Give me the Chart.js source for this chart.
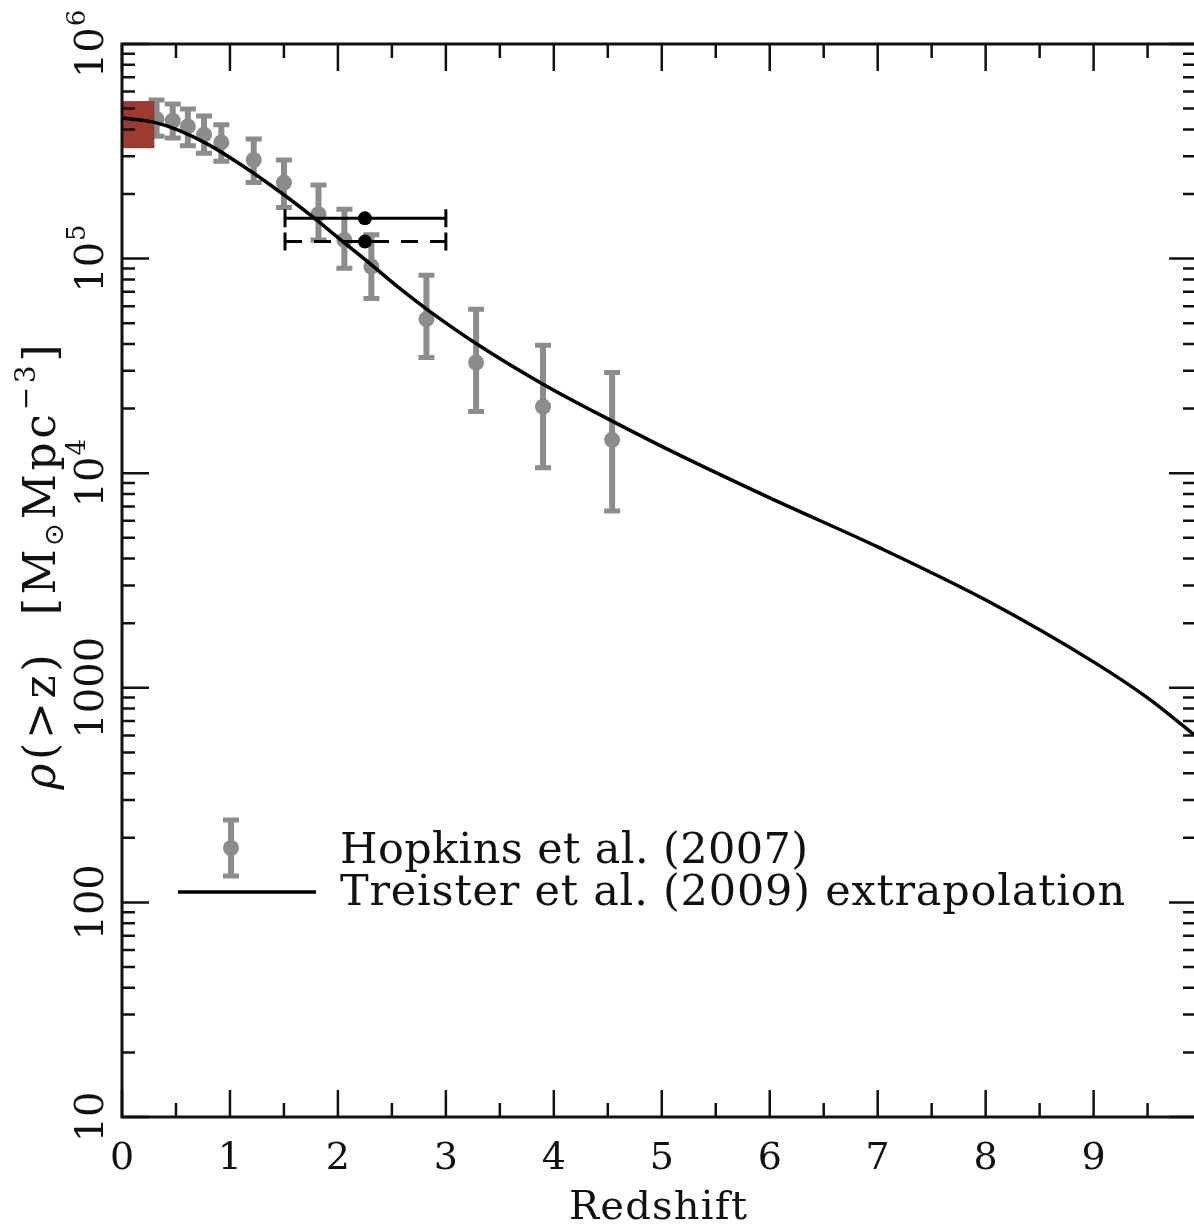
<!DOCTYPE html>
<html><head><meta charset="utf-8">
<script src="https://cdn.jsdelivr.net/npm/chart.js@4/dist/chart.umd.min.js"></script>
<style>html,body{margin:0;padding:0;background:#fff;overflow:hidden}#wrap{position:relative;width:1194px;height:1225px}</style>
</head><body><div id="wrap"><canvas id="c" width="1194" height="1225"></canvas></div>
<script>
// ---- data ----
const hopkinsZ   = [0.32, 0.47, 0.61, 0.76, 0.92, 1.22, 1.50, 1.82, 2.06, 2.31, 2.82, 3.28, 3.90, 4.54];
const hopkinsRho = [4.47e5, 4.39e5, 4.13e5, 3.78e5, 3.48e5, 2.88e5, 2.26e5, 1.61e5, 1.22e5, 9.19e4, 5.22e4, 3.28e4, 2.04e4, 1.43e4];
const hopkinsHi  = [5.48e5, 5.25e5, 4.98e5, 4.62e5, 4.20e5, 3.61e5, 2.88e5, 2.20e5, 1.70e5, 1.29e5, 8.37e4, 5.81e4, 3.95e4, 2.95e4];
const hopkinsLo  = [3.72e5, 3.65e5, 3.36e5, 3.10e5, 2.84e5, 2.26e5, 1.73e5, 1.22e5, 9.02e4, 6.51e4, 3.46e4, 1.94e4, 1.06e4, 6.66e3];

const treisterZ   = [0, 0.31, 0.51, 0.81, 1.12, 1.49, 1.77, 2.02, 2.27, 2.57, 2.85, 3.29, 3.9, 4.55, 5.17, 6.01, 7.01, 8.01, 9.01, 9.51, 9.93];
const treisterRho = [4.52e5, 4.30e5, 3.99e5, 3.38e5, 2.70e5, 2.00e5, 1.56e5, 1.23e5, 9.73e4, 7.28e4, 5.68e4, 3.99e4, 2.60e4, 1.74e4, 1.21e4, 7.63e3, 4.51e3, 2.55e3, 1.31e3, 890, 605];

const xrayZ    = [2.25, 2.25];
const xrayRho  = [1.54e5, 1.20e5];
const xrayZLo  = [1.51, 1.51];
const xrayZHi  = [3.0, 3.0];
const xrayDash = [false, true];

const localZ   = [0, 0.3];
const localRho = [3.27e5, 5.42e5];

const xMajorTicks = [0,1,2,3,4,5,6,7,8,9];
const xMinorTicks = [0.5,1.5,2.5,3.5,4.5,5.5,6.5,7.5,8.5,9.5];
const xTickLabels = ['0','1','2','3','4','5','6','7','8','9'];
const yMajorTicks = [10, 100, 1000, 1e4, 1e5, 1e6];
const yTickLabels = ['10', '100', '1000', '10^4', '10^5', '10^6'];
const legendLabels = ['Hopkins et al. (2007)', 'Treister et al. (2009) extrapolation'];
const xTitle = 'Redshift';

const GRAY = '#8c8c8c';
const RED = '#9e3b30';
const FONT = '"DejaVu Serif", "Liberation Serif", serif';

function drawErrV(ctx, px, pyHi, pyLo, cap, lw, capLw, color){
  ctx.save(); ctx.strokeStyle=color; ctx.lineWidth=lw; ctx.lineCap='butt';
  ctx.beginPath(); ctx.moveTo(px,pyHi); ctx.lineTo(px,pyLo); ctx.stroke();
  ctx.lineWidth=capLw;
  ctx.beginPath(); ctx.moveTo(px-cap,pyHi); ctx.lineTo(px+cap,pyHi); ctx.moveTo(px-cap,pyLo); ctx.lineTo(px+cap,pyLo); ctx.stroke();
  ctx.restore();
}

const plot = {
  id:'plot',
  beforeDatasetDraw(chart, args){
    const {ctx, scales:{x,y}} = chart;
    if(args.index===0){
      for(let i=0;i<hopkinsZ.length;i++){
        drawErrV(ctx, x.getPixelForValue(hopkinsZ[i]), y.getPixelForValue(hopkinsHi[i]), y.getPixelForValue(hopkinsLo[i]), 8, 6, 5, GRAY);
      }
    }
    if(args.index===2){
      for(let i=0;i<xrayZ.length;i++){
        const py=y.getPixelForValue(xrayRho[i]);
        const x0=x.getPixelForValue(xrayZLo[i]), x1=x.getPixelForValue(xrayZHi[i]);
        ctx.save(); ctx.strokeStyle='#000'; ctx.lineWidth=3;
        if(xrayDash[i]) ctx.setLineDash([17,12]);
        ctx.beginPath(); ctx.moveTo(x0,py); ctx.lineTo(x1,py); ctx.stroke();
        ctx.setLineDash([]);
        ctx.beginPath(); ctx.moveTo(x0,py-9); ctx.lineTo(x0,py+9); ctx.moveTo(x1,py-9); ctx.lineTo(x1,py+9); ctx.stroke();
        ctx.restore();
      }
    }
  },
  afterDatasetDraw(chart, args){
    const {ctx, scales:{x,y}} = chart;
    if(args.index===0){
      const x0=x.getPixelForValue(localZ[0]), x1=x.getPixelForValue(localZ[1]);
      const y0=y.getPixelForValue(localRho[0]), y1=y.getPixelForValue(localRho[1]);
      ctx.save(); ctx.fillStyle=RED; ctx.fillRect(x0, y1, x1-x0, y0-y1); ctx.restore();
    }
  },
  afterDraw(chart){
    const {ctx, chartArea:a, scales:{x,y}} = chart;
    ctx.save();
    // frame
    ctx.strokeStyle='#111'; ctx.lineWidth=3;
    ctx.beginPath();
    ctx.moveTo(a.right,a.top); ctx.lineTo(a.left,a.top); ctx.lineTo(a.left,a.bottom); ctx.lineTo(a.right,a.bottom);
    ctx.stroke();
    ctx.lineWidth=2.5;
    ctx.beginPath();
    for(const v of xMajorTicks){ const px=x.getPixelForValue(v); ctx.moveTo(px,a.top); ctx.lineTo(px,a.top+27); ctx.moveTo(px,a.bottom); ctx.lineTo(px,a.bottom-27); }
    for(const v of xMinorTicks){ const px=x.getPixelForValue(v); ctx.moveTo(px,a.top); ctx.lineTo(px,a.top+14); ctx.moveTo(px,a.bottom); ctx.lineTo(px,a.bottom-14); }
    for(let d=0; d<yMajorTicks.length; d++){
      const v=yMajorTicks[d]; const py=y.getPixelForValue(v);
      ctx.moveTo(a.left,py); ctx.lineTo(a.left+27,py); ctx.moveTo(a.right,py); ctx.lineTo(a.right-25,py);
      if(d<yMajorTicks.length-1){
        for(let m=2;m<=9;m++){ const pm=y.getPixelForValue(v*m); ctx.moveTo(a.left,pm); ctx.lineTo(a.left+13,pm); ctx.moveTo(a.right,pm); ctx.lineTo(a.right-11,pm); }
      }
    }
    ctx.stroke();
    // x tick labels
    ctx.fillStyle='#111'; ctx.font='38px '+FONT; ctx.textAlign='center'; ctx.textBaseline='alphabetic';
    xMajorTicks.forEach((v,i)=>{ ctx.fillText(xTickLabels[i], x.getPixelForValue(v), a.bottom+52); });
    const fitText=(t, px, py, w, size)=>{
      ctx.font=size+'px '+FONT; ctx.letterSpacing='0px';
      const m=ctx.measureText(t).width;
      ctx.letterSpacing=((w-m)/(t.length-1)).toFixed(2)+'px';
      ctx.textAlign='left';
      ctx.fillText(t, px, py); ctx.letterSpacing='0px';
    };
    // x title
    fitText(xTitle, (a.left+a.right)/2-89, a.bottom+102, 178, 40);
    // y tick labels (rotated)
    yMajorTicks.forEach((v,i)=>{
      const py=y.getPixelForValue(v);
      const parts=yTickLabels[i].split('^');
      ctx.save(); ctx.translate(a.left-19, py); ctx.rotate(-Math.PI/2);
      ctx.textAlign='left';
      ctx.font='40px '+FONT; const w0=ctx.measureText(parts[0]).width;
      let w1=0; if(parts[1]){ ctx.font='26px '+FONT; w1=ctx.measureText(parts[1]).width+1; }
      const s=-(w0+w1)/2;
      ctx.font='40px '+FONT; ctx.fillText(parts[0], s, 0);
      if(parts[1]){ ctx.font='26px '+FONT; ctx.fillText(parts[1], s+w0+1, -18); }
      ctx.restore();
    });
    // y title
    ctx.save(); ctx.translate(55, 567); ctx.rotate(-Math.PI/2);
    const pieces=[
      {t:'\u03C1', f:'italic 44px '+FONT, dy:0},
      {t:'(>z)  [M', f:'44px '+FONT, dy:0},
      {t:'\u2299', f:'27px "DejaVu Sans", sans-serif', dy:8},
      {t:'Mpc', f:'44px '+FONT, dy:0},
      {t:'\u22123', f:'28px '+FONT, dy:-20},
      {t:']', f:'44px '+FONT, dy:0}
    ];
    ctx.letterSpacing='0px';
    let tot=0, nch=0; pieces.forEach(p=>{ ctx.font=p.f; p.w=ctx.measureText(p.t).width; tot+=p.w; nch+=p.t.length; });
    const sp=Math.max(0,(445-tot)/(nch-1));
    let cx=-(tot+sp*(nch-1))/2; ctx.textAlign='left';
    pieces.forEach(p=>{
      ctx.font=p.f;
      for(const ch of p.t){ ctx.fillText(ch, cx, p.dy); cx+=ctx.measureText(ch).width+sp; }
    });
    ctx.restore();
    // legend
    const lx=231, ly=848;
    drawErrV(ctx, lx, ly-28, ly+28, 8, 6, 5, GRAY);
    ctx.fillStyle=GRAY; ctx.beginPath(); ctx.arc(lx,ly,8,0,Math.PI*2); ctx.fill();
    ctx.strokeStyle='#000'; ctx.lineWidth=3.5; ctx.beginPath(); ctx.moveTo(178,892); ctx.lineTo(316,892); ctx.stroke();
    ctx.fillStyle='#111';
    fitText(legendLabels[0], 340, 863, 468, 43);
    fitText(legendLabels[1], 340, 905, 785, 43);
    ctx.restore();
  }
};

new Chart(document.getElementById('c').getContext('2d'), {
  type:'scatter',
  data:{datasets:[
    {label:legendLabels[0], data:hopkinsZ.map((z,i)=>({x:z,y:hopkinsRho[i]})), backgroundColor:GRAY, borderColor:GRAY, pointRadius:8, pointBorderWidth:0, order:3},
    {label:legendLabels[1], type:'line', data:treisterZ.map((z,i)=>({x:z,y:treisterRho[i]})), borderColor:'#000', borderWidth:3.5, pointRadius:0, cubicInterpolationMode:'monotone', fill:false, order:2},
    {label:'X-ray', data:xrayZ.map((z,i)=>({x:z,y:xrayRho[i]})), backgroundColor:'#000', borderColor:'#000', pointRadius:7, pointBorderWidth:0, order:1}
  ]},
  options:{
    responsive:false, animation:false, events:[],
    layout:{autoPadding:false, padding:{left:122, top:44, right:0, bottom:108}},
    scales:{
      x:{type:'linear', min:0, max:9.93, display:false},
      y:{type:'logarithmic', min:10, max:1e6, display:false}
    },
    plugins:{legend:{display:false}, tooltip:{enabled:false}}
  },
  plugins:[plot]
});
</script></body></html>
